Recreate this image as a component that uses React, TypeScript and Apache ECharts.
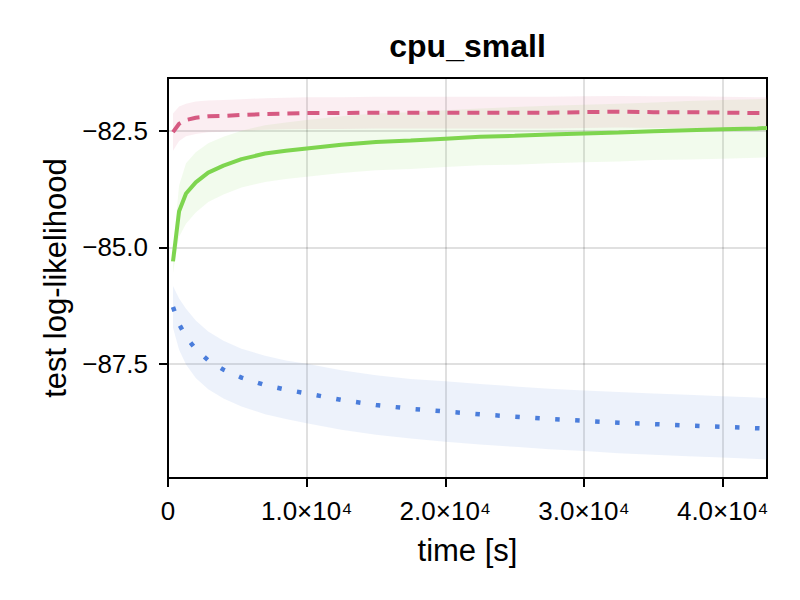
import React, { useEffect, useRef } from 'react';
import * as echarts from 'echarts';

const titleText = 'cpu_small';
const xLabel = 'time [s]';
const yLabel = 'test log-likelihood';

const times = [360, 800, 1300, 2000, 2900, 4000, 5300, 7000, 8500, 10000, 12500, 15000, 17500, 20000, 22500, 25000, 27500, 30000, 32500, 35000, 37500, 40000, 42500, 43200];

const pinkMean = [-82.52, -82.34, -82.26, -82.21, -82.18, -82.17, -82.15, -82.13, -82.12, -82.11, -82.11, -82.10, -82.10, -82.10, -82.10, -82.10, -82.10, -82.09, -82.08, -82.09, -82.09, -82.10, -82.11, -82.11];
const pinkStd = [0.4, 0.37, 0.35, 0.35, 0.34, 0.34, 0.34, 0.34, 0.34, 0.34, 0.34, 0.34, 0.34, 0.34, 0.34, 0.34, 0.34, 0.34, 0.34, 0.34, 0.34, 0.34, 0.34, 0.34];

const greenMean = [-85.30, -84.22, -83.84, -83.60, -83.39, -83.24, -83.10, -82.98, -82.92, -82.87, -82.79, -82.73, -82.70, -82.66, -82.62, -82.60, -82.57, -82.55, -82.53, -82.50, -82.48, -82.46, -82.44, -82.43];
const greenStd = [0.25, 0.55, 0.65, 0.65, 0.63, 0.62, 0.61, 0.61, 0.61, 0.61, 0.61, 0.61, 0.61, 0.61, 0.61, 0.62, 0.62, 0.62, 0.62, 0.62, 0.63, 0.63, 0.63, 0.63];

const blueMean = [-86.28, -86.65, -86.92, -87.19, -87.43, -87.63, -87.80, -87.96, -88.06, -88.14, -88.28, -88.39, -88.47, -88.53, -88.59, -88.64, -88.69, -88.73, -88.77, -88.80, -88.83, -88.86, -88.89, -88.90];
const blueStd = [0.45, 0.55, 0.6, 0.62, 0.62, 0.62, 0.62, 0.63, 0.63, 0.64, 0.64, 0.64, 0.64, 0.65, 0.65, 0.65, 0.65, 0.65, 0.66, 0.66, 0.66, 0.66, 0.66, 0.66];

const xTicks = [0, 10000, 20000, 30000, 40000];
const yTicks = [-87.5, -85.0, -82.5];
const xMin = 0;
const xMax = 43200;
const yMin = -89.96;
const yMax = -81.355;

const FONT = "'Liberation Sans', Arial, Helvetica, sans-serif";

const BLUE = '#4a7ddb';
const GREEN = '#7ed54f';
const PINK = '#d65a82';

function bandSeries(name: string, mean: number[], std: number[], fill: string) {
  return {
    type: 'custom',
    name: name + ' band',
    silent: true,
    clip: true,
    data: [[times[0], mean[0]]],
    renderItem: (_params: any, api: any) => {
      const upper = times.map((t, i) => api.coord([t, mean[i] + std[i]]));
      const lower = times.map((t, i) => api.coord([t, mean[i] - std[i]])).reverse();
      return {
        type: 'polygon',
        shape: { points: upper.concat(lower) },
        style: { fill, stroke: 'none' },
      };
    },
  };
}

function xFmt(v: number) {
  if (v === 0) return '0';
  return (v / 10000).toFixed(1) + '×10⁴';
}
function yFmt(v: number) {
  return v.toFixed(1).replace('-', '−');
}

export default function App() {
  const ref = useRef<HTMLDivElement>(null);
  useEffect(() => {
    const chart = echarts.init(ref.current!, null, { renderer: 'svg' });
    const option: any = {
      animation: false,
      backgroundColor: '#ffffff',
      textStyle: { fontFamily: FONT },
      graphic: [
        {
          type: 'text', x: 467.5, y: 30,
          style: { text: titleText, fontFamily: FONT, fontSize: 32, fontWeight: 'bold', fill: '#000', textAlign: 'center', textVerticalAlign: 'top' },
        },
      ],
      grid: { left: 168, top: 78, right: 33, bottom: 122, show: true, borderColor: '#000', borderWidth: 2, backgroundColor: 'transparent' },
      xAxis: {
        type: 'value', min: xMin, max: xMax,
        name: xLabel, nameLocation: 'middle', nameGap: 57,
        nameTextStyle: { fontFamily: FONT, fontSize: 31, color: '#000' },
        axisLine: { show: true, lineStyle: { color: '#000', width: 2 } },
        axisTick: { show: true, customValues: xTicks, length: 9, lineStyle: { color: '#000', width: 2 } },
        axisLabel: { customValues: xTicks, formatter: xFmt, margin: 20, fontFamily: FONT, fontSize: 26, color: '#000' },
        splitLine: { show: true, lineStyle: { color: 'rgba(0,0,0,0.12)', width: 2 } },
      },
      yAxis: {
        type: 'value', min: yMin, max: yMax,
        name: yLabel, nameLocation: 'middle', nameGap: 97,
        nameTextStyle: { fontFamily: FONT, fontSize: 31, color: '#000' },
        axisLine: { show: true, lineStyle: { color: '#000', width: 2 } },
        axisTick: { show: true, customValues: yTicks, length: 9, lineStyle: { color: '#000', width: 2 } },
        axisLabel: { customValues: yTicks, formatter: yFmt, margin: 20, fontFamily: FONT, fontSize: 26, color: '#000' },
        splitLine: { show: true, lineStyle: { color: 'rgba(0,0,0,0.12)', width: 2 } },
      },
      series: [
        bandSeries('blue', blueMean, blueStd, 'rgba(74,125,219,0.10)'),
        bandSeries('green', greenMean, greenStd, 'rgba(126,213,79,0.10)'),
        bandSeries('pink', pinkMean, pinkStd, 'rgba(214,90,130,0.10)'),
        {
          type: 'line', name: 'blue', data: times.map((t, i) => [t, blueMean[i]]), symbol: 'none',
          lineStyle: { color: BLUE, width: 4.5, type: [4.5, 15.5], cap: 'butt' },
        },
        {
          type: 'line', name: 'green', data: times.map((t, i) => [t, greenMean[i]]), symbol: 'none',
          lineStyle: { color: GREEN, width: 4, type: 'solid' },
        },
        {
          type: 'line', name: 'pink', data: times.map((t, i) => [t, pinkMean[i]]), symbol: 'none',
          lineStyle: { color: PINK, width: 4, type: [12, 8] },
        },
      ],
    };
    chart.setOption(option);
    return () => chart.dispose();
  }, []);
  return <div ref={ref} style={{ position: 'fixed', left: 0, top: 0, width: 800, height: 600, background: '#fff' }} />;
}
